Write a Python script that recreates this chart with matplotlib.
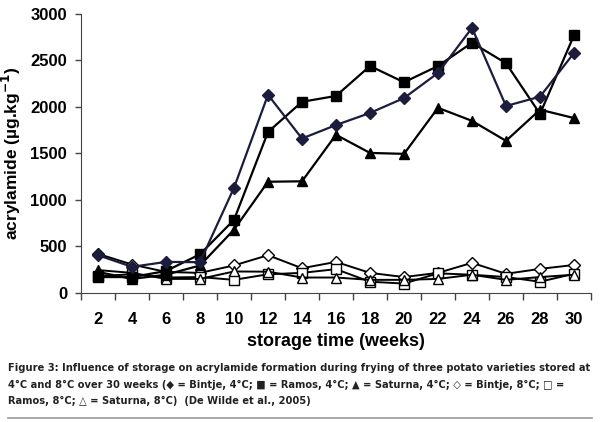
import matplotlib.pyplot as plt
from matplotlib.lines import Line2D

weeks = [2, 4, 6, 8, 10, 12, 14, 16, 18, 20, 22, 24, 26, 28, 30]

bintje_4 = [405, 280, 333, 330, 1130, 2130, 1660, 1805, 1935, 2095, 2365, 2850, 2010, 2110, 2580]
ramos_4 = [170, 170, 235, 415, 785, 1730, 2055, 2118, 2440, 2265, 2440, 2690, 2470, 1925, 2770]
saturna_4 = [225, 150, 195, 295, 680, 1195, 1200, 1700, 1505, 1495, 1990, 1850, 1635, 1970, 1880]
bintje_8 = [420, 305, 225, 215, 295, 405, 265, 333, 215, 170, 215, 323, 205, 258, 300]
ramos_8 = [180, 200, 165, 170, 140, 200, 215, 255, 120, 100, 210, 195, 170, 120, 205]
saturna_8 = [245, 215, 150, 150, 230, 228, 165, 165, 140, 140, 150, 195, 140, 170, 195]

caption = ("Figure 3: Influence of storage on acrylamide formation during frying of three potato varieties stored at\n"
           "4°C and 8°C over 30 weeks (◆ = Bintje, 4°C; ■ = Ramos, 4°C; ▲ = Saturna, 4°C; ◇ = Bintje, 8°C; □ =\n"
           "Ramos, 8°C; △ = Saturna, 8°C)  (De Wilde et al., 2005)")

plt.rcParams['font.family'] = ['Liberation Sans', 'DejaVu Sans']

fig = plt.figure(figsize=(6, 4.22), dpi=100)
ax = fig.add_axes([0.135, 0.306, 0.85, 0.661])

navy = "#1c1c3c"
ax.plot(weeks, bintje_8, color="black", lw=1.4, marker="D", ms=6.5, mfc="white", mec="black", mew=1.0)
ax.plot(weeks, ramos_8, color="black", lw=1.4, marker="s", ms=6.5, mfc="white", mec="black", mew=1.0)
ax.plot(weeks, saturna_8, color="black", lw=1.4, marker="^", ms=7, mfc="white", mec="black", mew=1.0)
ax.plot(weeks, saturna_4, color="black", lw=1.6, marker="^", ms=7.5, mfc="black", mec="black")
ax.plot(weeks, ramos_4, color="black", lw=1.6, marker="s", ms=7, mfc="black", mec="black")
ax.plot(weeks, bintje_4, color=navy, lw=1.6, marker="D", ms=6.5, mfc=navy, mec=navy)

ax.set_xlim(1, 31)
ax.set_ylim(0, 3000)
ax.set_yticks(range(0, 3001, 500))
ax.set_xticks(range(1, 32, 2))
ax.set_xticklabels([])
ax.set_xticks(weeks, minor=True)
ax.set_xticklabels([str(w) for w in weeks], minor=True, fontsize=12, fontweight="bold")
ax.tick_params(axis="x", which="major", direction="out", length=5, width=1, color="#444444")
ax.tick_params(axis="x", which="minor", length=0, pad=14)
ax.tick_params(axis="y", direction="out", length=4, width=1, color="#444444", pad=6)
for lab in ax.get_yticklabels():
    lab.set_fontsize(12)
    lab.set_fontweight("bold")

for s in ["top", "right"]:
    ax.spines[s].set_visible(False)
ax.spines["left"].set_color("#444444")
ax.spines["bottom"].set_color("#444444")

ax.set_xlabel("storage time (weeks)", fontsize=13, fontweight="bold", labelpad=4)
ax.set_ylabel("acrylamide (µg.kg$^{\\mathbf{-1}}$)", fontsize=12.5, fontweight="bold", labelpad=5)

fig.text(0.013, 0.088, caption, fontsize=7.9, fontweight="bold", color="#222222",
         family=["DejaVu Sans", "DejaVu Sans"], fontstretch="condensed",
         va="center", ha="left", linespacing=1.8)
fig.add_artist(Line2D([0.013, 0.987], [0.01, 0.01], color="#999999", lw=1.2))

fig.savefig("out.png", dpi=100)
